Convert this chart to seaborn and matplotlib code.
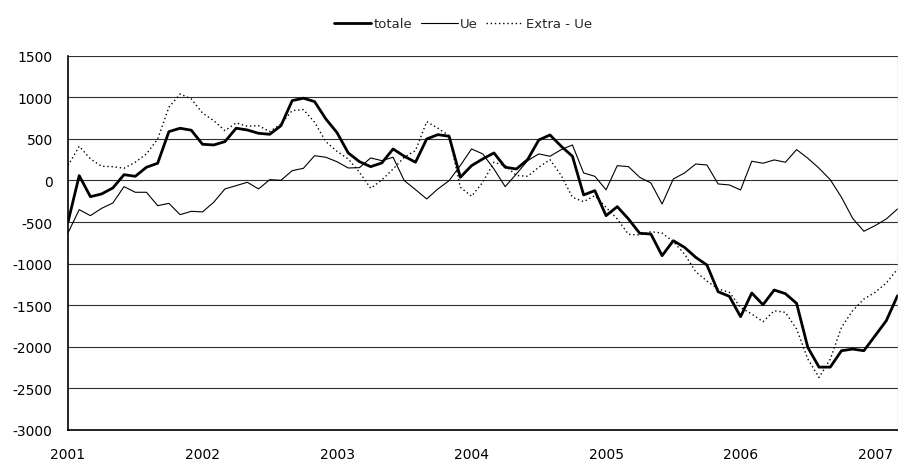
import numpy as np
import pandas as pd
import matplotlib
matplotlib.use("Agg")
import matplotlib.pyplot as plt
import seaborn as sns

# monthly values, Jan 2001 - Mar 2007
years = ["2001", "2002", "2003", "2004", "2005", "2006", "2007"]

totale = [
    -500, 58, -195, -162, -90, 70, 50, 159, 207, 587, 628, 604,
    435, 427, 467, 628, 607, 567, 555, 659, 960, 989, 948, 740,
    575, 331, 226, 166, 211, 379, 291, 219, 499, 551, 531, 38,
    178, 259, 331, 159, 138, 250, 487, 547, 411, 291, -174, -122,
    -423, -315, -463, -635, -644, -904, -724, -804, -924, -1017, -1338, -1393,
    -1638, -1353, -1494, -1317, -1361, -1478, -2007, -2244, -2244, -2047, -2027, -2047,
    -1867, -1686, -1386,
]
ue = [
    -630, -351, -423, -335, -271, -74, -142, -142, -303, -275, -411, -371,
    -378, -262, -102, -62, -22, -102, 10, 2, 118, 146, 298, 279,
    225, 150, 154, 271, 238, 279, -2, -110, -222, -102, -2, 180,
    379, 319, 138, -74, 78, 238, 319, 291, 371, 427, 90, 50,
    -112, 178, 166, 38, -30, -283, 18, 90, 198, 186, -42, -54,
    -114, 231, 207, 247, 219, 371, 267, 147, 10, -202, -455, -611,
    -543, -463, -343,
]
extra_ue = [
    178, 411, 259, 171, 166, 147, 219, 319, 499, 880, 1040, 980,
    810, 720, 599, 692, 652, 659, 587, 680, 840, 852, 700, 467,
    350, 259, 98, -94, 6, 138, 279, 359, 707, 628, 539, -82,
    -190, -22, 219, 178, 60, 50, 159, 250, 60, -202, -255, -182,
    -323, -463, -648, -656, -616, -632, -736, -884, -1097, -1209, -1305, -1345,
    -1526, -1606, -1698, -1566, -1586, -1786, -2147, -2368, -2150, -1766, -1566, -1426,
    -1345, -1233, -1065,
]

month = np.arange(len(totale))
df = pd.DataFrame({"month": month, "totale": totale, "Ue": ue, "Extra - Ue": extra_ue})

sns.set_style("white")
plt.rcParams["font.family"] = ["DejaVu Sans"]

fig = plt.figure(figsize=(8.98, 4.6), dpi=100)
ax = fig.add_axes([68 / 898, 1 - 431 / 460, 829.5 / 898, (431 - 56.7) / 460])

sns.lineplot(data=df, x="month", y="totale", ax=ax, color="black", linewidth=2.0, label="totale")
sns.lineplot(data=df, x="month", y="Ue", ax=ax, color="black", linewidth=0.8, label="Ue")
sns.lineplot(data=df, x="month", y="Extra - Ue", ax=ax, color="black", linewidth=1.0,
             linestyle=(0, (1, 2)), label="Extra - Ue")

ax.set_xlim(0, len(totale) - 1)
ax.set_ylim(-3000, 1500)
ax.set_yticks(np.arange(-3000, 1501, 500))
ax.set_yticklabels([str(v) for v in range(-3000, 1501, 500)])
ax.set_xticks(np.arange(0, len(totale), 12))
ax.set_xticklabels(years)
ax.set_xlabel("")
ax.set_ylabel("")

ax.yaxis.grid(True, color="#303030", linewidth=0.8)
ax.xaxis.grid(False)
ax.set_axisbelow(True)
for s in ["left", "bottom"]:
    ax.spines[s].set_color("black")
    ax.spines[s].set_linewidth(1.2)
ax.spines["top"].set_visible(False)
ax.spines["right"].set_color("#c8c8c8")
ax.spines["right"].set_linewidth(1.0)

ax.tick_params(axis="both", which="major", direction="out", length=4, width=1,
               color="black", labelsize=10, labelcolor="black")
ax.tick_params(axis="y", pad=7)
ax.tick_params(axis="x", pad=8)

ax.legend(loc="center", bbox_to_anchor=(463 / 898, 1 - 25 / 460), bbox_transform=fig.transFigure,
          ncol=3, frameon=False, fontsize=9.5, handlelength=2.8, handletextpad=0.2,
          columnspacing=0.6)

fig.savefig("out.png", dpi=100)
